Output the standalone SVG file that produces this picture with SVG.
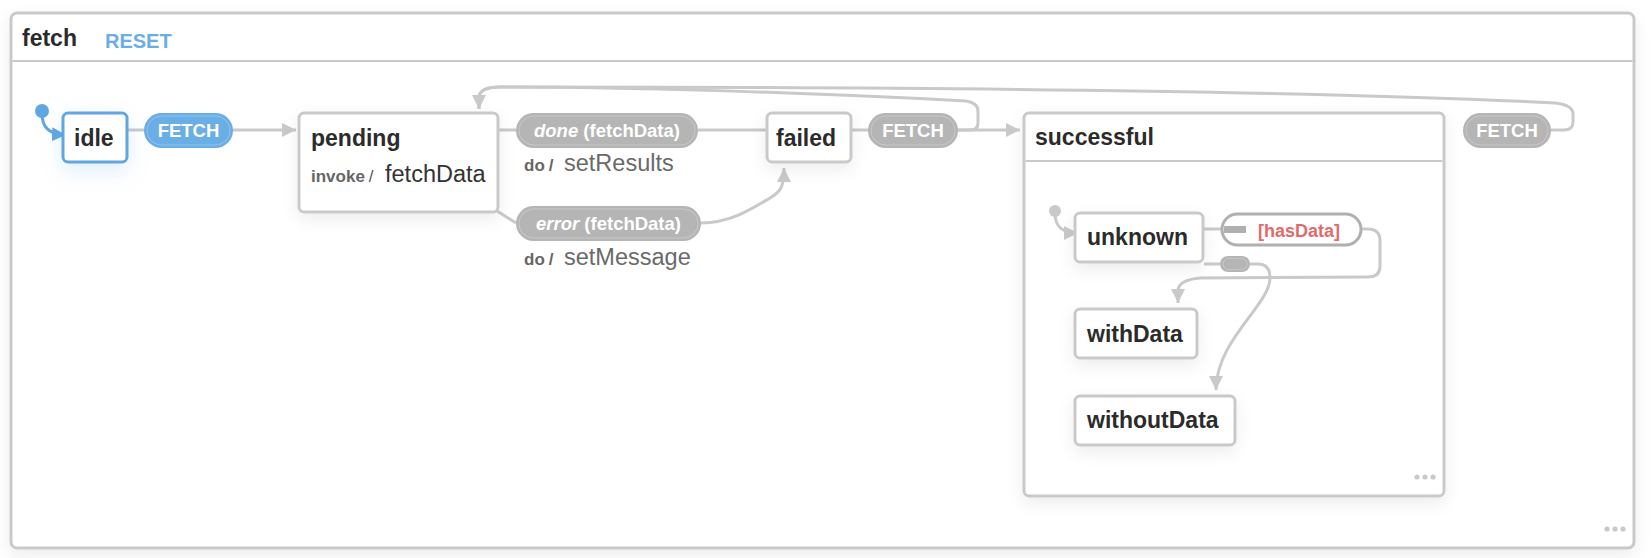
<svg xmlns="http://www.w3.org/2000/svg" width="1652" height="558" viewBox="0 0 1652 558">
<style>
text{font-family:"Liberation Sans",Arial,sans-serif}
.title{font-size:23px;font-weight:bold;fill:#2b2b2b}
.node{fill:#fff;stroke:#c9c9c9;stroke-width:3}
.edge{fill:none;stroke:#c9c9c9;stroke-width:3}
.pill{fill:#b5b5b5}
.pillin{fill:none;stroke:#fff;stroke-opacity:.25;stroke-width:1}
.ptext{font-size:18.5px;font-weight:bold;fill:#fff;text-anchor:middle}
.kw{font-size:17px;font-weight:bold;fill:#666}
.act{font-size:23.5px;fill:#6a6a6a}
.dots{fill:#c9c9c9}
</style>
<defs>
<marker id="arr" markerUnits="userSpaceOnUse" markerWidth="15" markerHeight="15" refX="14" refY="7" orient="auto">
<path d="M0,0 L14,7 L0,14 z" fill="#c9c9c9"/>
</marker>
<marker id="arrB" markerUnits="userSpaceOnUse" markerWidth="15" markerHeight="15" refX="14" refY="7" orient="auto">
<path d="M0,0 L14,7 L0,14 z" fill="#5fa6e2"/>
</marker>
<filter id="sh" x="-30%" y="-30%" width="160%" height="180%">
<feDropShadow dx="0" dy="6" stdDeviation="8" flood-color="#000" flood-opacity="0.07"/>
</filter>
<filter id="shb" x="-60%" y="-60%" width="220%" height="240%">
<feDropShadow dx="0" dy="8" stdDeviation="10" flood-color="#5fa6e2" flood-opacity="0.18"/>
</filter>
</defs>
<rect width="1652" height="558" fill="#fff"/>
<g id="fetch">
<rect x="11" y="13" width="1623" height="535" rx="6" class="node" filter="url(#sh)"/>
<line x1="12.5" y1="61" x2="1632.5" y2="61" stroke="#c9c9c9" stroke-width="2"/>
<text x="22" y="46" class="title">fetch</text>
<text x="105" y="48" font-size="20" font-weight="bold" fill="#6aaee6">RESET</text>
<circle cx="1607" cy="529" r="2.6" class="dots"/><circle cx="1615" cy="529" r="2.6" class="dots"/><circle cx="1623" cy="529" r="2.6" class="dots"/>
</g>
<g id="successful">
<rect x="1024" y="113" width="420" height="383" rx="5" class="node" filter="url(#sh)"/>
<line x1="1025.5" y1="161" x2="1442.5" y2="161" stroke="#c9c9c9" stroke-width="2"/>
<text x="1035" y="145" class="title">successful</text>
<circle cx="1417" cy="477" r="2.6" class="dots"/><circle cx="1425" cy="477" r="2.6" class="dots"/><circle cx="1433" cy="477" r="2.6" class="dots"/>
</g>
<g id="connectors">
<circle cx="42" cy="111" r="7" fill="#5fa6e2"/>
<path d="M42,113 C42,127 48,134 66,135" fill="none" stroke="#5fa6e2" stroke-width="3" marker-end="url(#arrB)"/>
<line x1="127" y1="130" x2="144" y2="130" class="edge"/>
<path d="M233,130 L296,130" class="edge" marker-end="url(#arr)"/>
<line x1="499" y1="130" x2="516" y2="130" class="edge"/>
<path d="M698,130 L1020,130" class="edge" marker-end="url(#arr)"/>
<path d="M497,211 L516,223" class="edge"/>
<path d="M701,223 C730,223 750,210 770,198 C780,192 784,188 784,168" class="edge" marker-end="url(#arr)"/>
<path d="M958,130 L970,130 Q978,130 978,123 L978,111 Q978,103 966,101 C800,92 620,87 500,87 Q480,87 479,97 L479,109" class="edge" marker-end="url(#arr)"/>
<path d="M1551,130 L1564,130 Q1573,130 1573,122 L1573,114 Q1573,105 1555,103 C1300,90 900,87 500,87 Q480,87 479,97 L479,109" class="edge"/>
<circle cx="1055" cy="211" r="6" fill="#c9c9c9"/>
<path d="M1055,213 C1055,226 1061,233 1078,233" class="edge" marker-end="url(#arr)"/>
<line x1="1203" y1="229" x2="1221" y2="229" class="edge"/>
<path d="M1362,229 L1368,229 Q1380,229 1380,241 L1380,266 Q1380,277 1368,277 L1200,278 Q1179,280 1178,290 L1178,303" class="edge" marker-end="url(#arr)"/>
<line x1="1204" y1="264" x2="1220" y2="264" class="edge"/>
<path d="M1250,264 L1258,264 Q1270,264 1270,278 C1270,305 1216,340 1216,390" class="edge" marker-end="url(#arr)"/>
<g id="pill-idle-fetch">
<rect x="144" y="113" width="89" height="35" rx="17.5" fill="#6aaee6"/>
<rect x="147" y="116" width="83" height="29" rx="14.5" class="pillin"/>
<text x="188.5" y="137" class="ptext">FETCH</text>
</g>
<g id="pill-done">
<rect x="516" y="113" width="182" height="35" rx="17.5" class="pill"/>
<rect x="519" y="116" width="176" height="29" rx="14.5" class="pillin"/>
<text x="607" y="137" class="ptext"><tspan font-style="italic">done</tspan> (fetchData)</text>
</g>
<text x="524" y="171"><tspan class="kw">do</tspan><tspan class="kw" font-weight="normal" dx="4">/</tspan><tspan class="act" x="564">setResults</tspan></text>
<g id="pill-error">
<rect x="516" y="206" width="185" height="35" rx="17.5" class="pill"/>
<rect x="519" y="209" width="179" height="29" rx="14.5" class="pillin"/>
<text x="608.5" y="230" class="ptext"><tspan font-style="italic">error</tspan> (fetchData)</text>
</g>
<text x="524" y="265"><tspan class="kw">do</tspan><tspan class="kw" font-weight="normal" dx="4">/</tspan><tspan class="act" x="564">setMessage</tspan></text>
<g id="pill-failed-fetch">
<rect x="868" y="113" width="90" height="35" rx="17.5" class="pill"/>
<rect x="871" y="116" width="84" height="29" rx="14.5" class="pillin"/>
<text x="913" y="137" class="ptext">FETCH</text>
</g>
<g id="pill-successful-fetch">
<rect x="1463" y="113" width="88" height="35" rx="17.5" class="pill"/>
<rect x="1466" y="116" width="82" height="29" rx="14.5" class="pillin"/>
<text x="1507" y="137" class="ptext">FETCH</text>
</g>
<g id="pill-hasdata">
<rect x="1222" y="214" width="139" height="31" rx="15.5" fill="#fff" stroke="#b0b0b0" stroke-width="3"/>
<rect x="1224" y="226" width="22" height="7" fill="#b0b0b0"/>
<text x="1258" y="237" font-size="18" font-weight="bold" fill="#e06b6b">[hasData]</text>
</g>
<g id="pill-always">
<rect x="1220" y="256" width="30" height="16" rx="8" class="pill"/>
<rect x="1223" y="258.5" width="24" height="11" rx="5.5" class="pillin"/>
</g>
</g>
<g id="idle">
<rect x="63" y="113" width="64" height="49" rx="5" fill="#fff" stroke="#5fa6e2" stroke-width="3" filter="url(#shb)"/>
<text x="74" y="146" class="title">idle</text>
</g>
<g id="pending">
<rect x="299" y="113" width="199" height="99" rx="5" class="node" filter="url(#sh)"/>
<text x="311" y="146" class="title">pending</text>
<text x="311" y="182"><tspan class="kw" fill="#555">invoke</tspan><tspan font-size="17" fill="#555" dx="4">/</tspan><tspan x="385" font-size="23.5" fill="#333">fetchData</tspan></text>
</g>
<g id="failed">
<rect x="767" y="113" width="84" height="49" rx="5" class="node" filter="url(#sh)"/>
<text x="776" y="146" class="title">failed</text>
</g>
<g id="unknown">
<rect x="1075" y="213" width="128" height="49" rx="5" class="node" filter="url(#sh)"/>
<text x="1087" y="245" class="title">unknown</text>
</g>
<g id="withData">
<rect x="1075" y="309" width="122" height="49" rx="5" class="node" filter="url(#sh)"/>
<text x="1087" y="342" class="title">withData</text>
</g>
<g id="withoutData">
<rect x="1075" y="396" width="160" height="49" rx="5" class="node" filter="url(#sh)"/>
<text x="1087" y="428" class="title">withoutData</text>
</g>
</svg>
